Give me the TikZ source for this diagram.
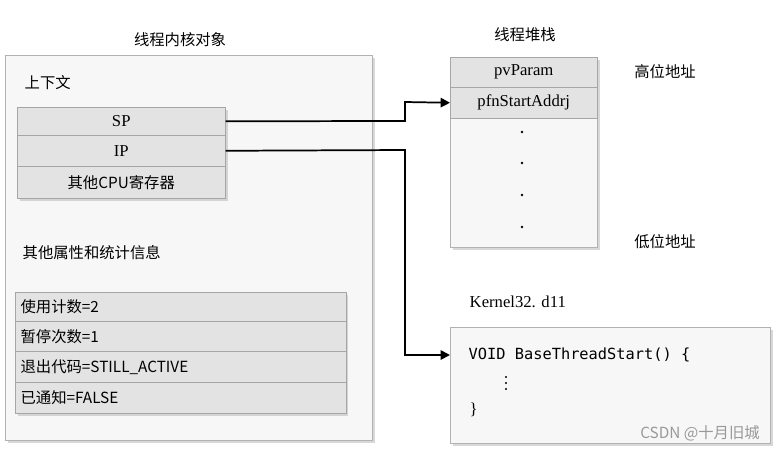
\documentclass[tikz,border=0pt]{standalone}
\usepackage{fontspec}
\setmainfont{Liberation Serif}
\setmonofont{DejaVu Sans Mono}
\newfontfamily\cjk{Noto Sans CJK SC}
\usetikzlibrary{shadows,arrows.meta}
\begin{document}
\begin{tikzpicture}[x=0.75pt,y=-0.75pt,
  panel/.style={draw=gray!60,fill=gray!6,drop shadow={shadow xshift=2pt,shadow yshift=-2pt,fill=gray!60}},
  cell/.style={draw=gray!70,fill=gray!22,minimum height=0.75pt*#1,inner sep=0pt,anchor=north west},
  lbl/.style={font=\cjk\fontsize{11.5}{13}\selectfont},
  lat/.style={font=\fontsize{12.5}{14}\selectfont},
  conn/.style={line width=1.3pt,-{Triangle[length=7pt,width=7pt]}}]
\useasboundingbox (0,0) rectangle (777,451);
\fill[white] (0,0) rectangle (777,451);
% kernel object
\node[lbl] (t1) at (180,40) {线程内核对象};
\draw[panel] (5,55) rectangle (372,440);
\node[lbl,anchor=west] (ctx) at (20,83) {上下文};
\path[drop shadow={shadow xshift=2pt,shadow yshift=-2pt,fill=gray!60},fill=gray!22] (17,107) rectangle (225,198);
\node[cell=28,minimum width=0.75pt*208,lat] (sp) at (17,107) {SP};
\node[cell=31,minimum width=0.75pt*208,lat] (ip) at (17,135) {IP};
\node[cell=32,minimum width=0.75pt*208,lbl] (cpu) at (17,166) {其他CPU寄存器};
\node[lbl,anchor=west] (oth) at (18,253) {其他属性和统计信息};
\path[drop shadow={shadow xshift=2pt,shadow yshift=-2pt,fill=gray!60},fill=gray!22] (15,292) rectangle (345,413);
\foreach \n/\y/\h/\t in {s1/292/29/使用计数=2,s2/321/30/暂停次数=1,s3/351/31/退出代码=STILL\_ACTIVE,s4/382/31/已通知=FALSE}
  \node[cell=\h,minimum width=0.75pt*330,lbl,text width=0.75pt*320,align=left,inner xsep=4pt] (\n) at (15,\y) {\t};
% stack
\node[lbl] (t2) at (525,35) {线程堆栈};
\draw[panel] (450,57) rectangle (597,247);
\node[cell=30,minimum width=0.75pt*147,lat] (pv) at (450,57) {pvParam};
\node[cell=31,minimum width=0.75pt*147,lat] (pfn) at (450,87) {pfnStartAddrj};
\foreach \y in {132,163,195,227} \fill (522,\y) circle (1.1pt);
\node[lbl] (hi) at (665,72) {高位地址};
\node[lbl] (lo) at (665,242) {低位地址};
% kernel32
\node[anchor=west,lat] (k32) at (465,302) {Kernel32. d11};
\draw[panel] (450,327) rectangle (770,443);
\node[anchor=west,font=\ttfamily\fontsize{11.5}{13}\selectfont] (code) at (464,355) {VOID BaseThreadStart() \{};
\foreach \y in {377,383,389} \fill (506,\y) circle (0.9pt);
\node[anchor=west,lat] (rb) at (465,410) {\}};
\node[font=\fontsize{11.5}{13}\selectfont\cjk,text=gray!80] (wm) at (700,433) {CSDN @十月旧城};
% connectors
\draw[conn] (sp.east) -- (405,121) -- (405,102) -- (pfn.west);
\draw[conn] (ip.east) -- (405,150) -- (405,355) -- (450,355);
\end{tikzpicture}
\end{document}
